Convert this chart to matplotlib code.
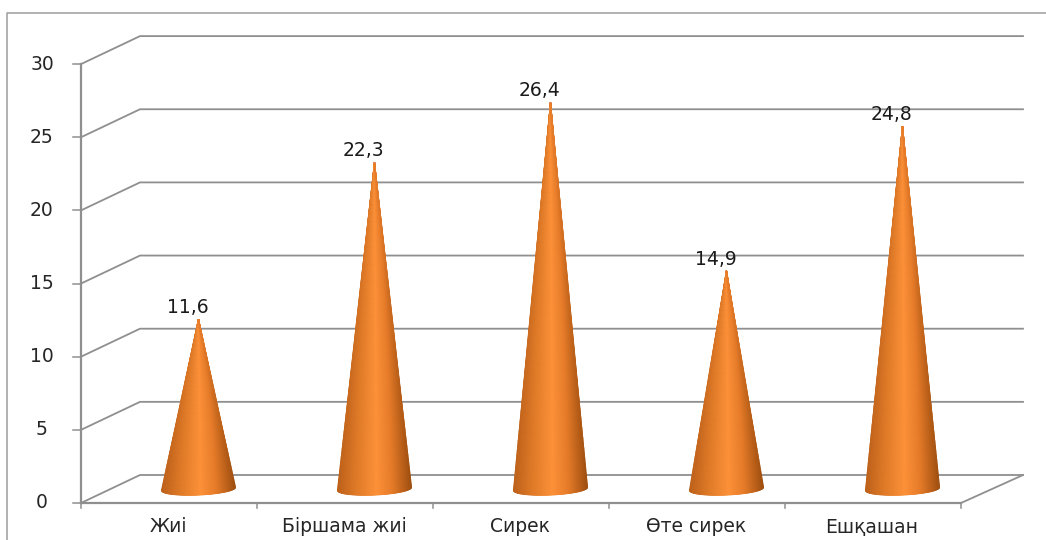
import numpy as np
import matplotlib
matplotlib.use("Agg")
import matplotlib.pyplot as plt
from matplotlib.colors import LinearSegmentedColormap

categories = ["Жиі", "Біршама жиі", "Сирек", "Өте сирек", "Ешқашан"]
values = [11.6, 22.3, 26.4, 14.9, 24.8]
value_labels = ["11,6", "22,3", "26,4", "14,9", "24,8"]
y_ticks = [0, 5, 10, 15, 20, 25, 30]

W, H = 1046, 540
X0, Y0 = 81, 503          # front-left corner of the floor, in pixels
CAT_W = 176               # pixels per category
UNIT_H = 14.63            # pixels per value unit
DX, DY = 59, 28           # depth offset of the back wall, in pixels
GRID = "#8f8f8f"
TEXT = "#262626"
FONT = 13.5

fig = plt.figure(figsize=(W / 100, H / 100), dpi=100, facecolor="white")
ax = fig.add_axes([0, 0, 1, 1])
x_left, x_right = -X0 / CAT_W, (W - X0) / CAT_W
y_bottom, y_top = -(H - Y0) / UNIT_H, Y0 / UNIT_H
ax.set_xlim(x_left, x_right)
ax.set_ylim(y_bottom, y_top)
ax.axis("off")

dx = DX / CAT_W
dy = DY / UNIT_H
n = len(categories)
px, py = 1 / CAT_W, 1 / UNIT_H

# outer chart frame (open at the right and bottom)
frame_x = x_left + 7 * px
frame_y = y_top - 13 * py
ax.plot([x_right, frame_x, frame_x], [frame_y, frame_y, y_bottom],
        color="#9d9d9d", lw=1.1, solid_capstyle="butt")

# gridlines: slanted side wall plus back wall
for t in y_ticks:
    ax.plot([0, dx, n + dx + 3 * px], [t, t + dy, t + dy], color=GRID, lw=1.3, zorder=1,
            solid_joinstyle="miter")
    ax.plot([-8 * px, 0], [t, t], color=GRID, lw=1.1, zorder=1)

# front axis lines, floor edge and ticks
ax.plot([0, 0], [0, 30], color=GRID, lw=1.6, zorder=1)
ax.plot([0, n], [0, 0], color=GRID, lw=1.6, zorder=1)
ax.plot([n, n + dx + 3 * px], [0, dy], color=GRID, lw=1.3, zorder=1)
for i in range(n + 1):
    ax.plot([i, i], [0, -5 * py], color=GRID, lw=1.1, zorder=1)

for t in y_ticks:
    ax.text(-39 * px, t, str(t), ha="center", va="center", fontsize=FONT, color=TEXT,
            family="DejaVu Sans")
for i, c in enumerate(categories):
    ax.text(i + 0.5 - 1 * px, -24 * py, c, ha="center", va="center", fontsize=FONT, color=TEXT,
            family="DejaVu Sans")

# cones: a mesh whose columns converge at the apex; the edge shading eases off towards the tip
cmap = LinearSegmentedColormap.from_list(
    "cone",
    [(0.0, "#bd611b"), (0.25, "#df7a28"), (0.53, "#fd9139"),
     (0.75, "#e57b29"), (0.93, "#b55c17"), (1.0, "#a05010")],
)
half_w = 37 * px
half_h = 6 * py
tilt = 1.6 * py
s = np.linspace(-1, 1, 121)
t_down = np.linspace(0, 1, 40)
for i, v in enumerate(values):
    cx = i + 0.5 + dx / 2
    cy = dy / 2
    base_x = cx + half_w * s
    base_y = cy - half_h * np.sqrt(1 - s ** 2) + tilt * s
    apex_y = cy + v
    mesh_x = cx + np.outer(t_down, base_x - cx)
    mesh_y = apex_y + np.outer(t_down, base_y - apex_y)
    shade = 0.5 + 0.5 * np.outer(0.45 + 0.55 * t_down, s)
    ax.pcolormesh(mesh_x, mesh_y, shade, cmap=cmap, vmin=0, vmax=1,
                  shading="gouraud", zorder=3)
    ax.text(cx - 11 * px, apex_y + 12 * py, value_labels[i], ha="center", va="center",
            fontsize=FONT, color="#1a1a1a", family="DejaVu Sans", zorder=4)

ax.set_xlim(x_left, x_right)
ax.set_ylim(y_bottom, y_top)
fig.savefig("out.png", dpi=100)
